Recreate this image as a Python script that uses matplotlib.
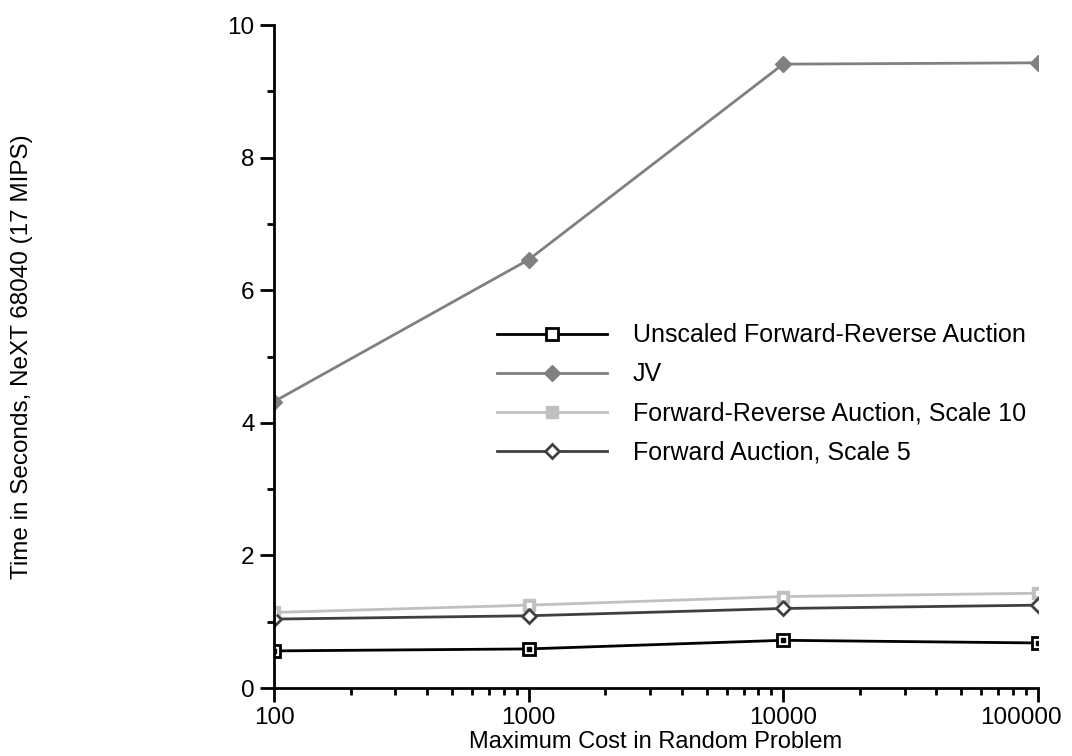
import matplotlib
matplotlib.use("Agg")
import matplotlib.pyplot as plt
from matplotlib.ticker import LogLocator, MultipleLocator, FixedLocator
from matplotlib.transforms import ScaledTranslation

plt.rcParams["font.family"] = ["Liberation Sans", "DejaVu Sans"]

max_cost = [100, 1000, 10000, 100000]
cost_labels = ["100", "1000", "10000", "100000"]

unscaled_fr = [0.56, 0.59, 0.72, 0.68]
jv = [4.32, 6.46, 9.41, 9.43]
fr_scale10 = [1.14, 1.25, 1.38, 1.43]
fwd_scale5 = [1.04, 1.09, 1.20, 1.25]


def main():
    fig = plt.figure(figsize=(10.72, 7.56), dpi=100)
    ax = fig.add_axes([0.2556, 0.0899, 0.7124, 0.877])

    ax.plot(max_cost, unscaled_fr, color="black", lw=2, marker="s", ms=8.5,
            mfc="white", mec="black", mew=2,
            label="Unscaled Forward-Reverse Auction")
    ax.plot(max_cost, jv, color="#808080", lw=2, marker="D", ms=8.5,
            mfc="#808080", mec="#808080", label="JV")
    ax.plot(max_cost, fr_scale10, color="#c0c0c0", lw=2, marker="s", ms=8.5,
            mfc="#c0c0c0", mec="#c0c0c0",
            label="Forward-Reverse Auction, Scale 10")
    ax.plot(max_cost, fwd_scale5, color="#404040", lw=2, marker="D", ms=7.5,
            mfc="white", mec="#404040", mew=2,
            label="Forward Auction, Scale 5")
    # small dot in the middle of the square markers
    ax.plot(max_cost, unscaled_fr, ls="none", marker="s", ms=2.5, color="black")
    ax.plot(max_cost, fr_scale10, ls="none", marker="s", ms=2.5, color="white")

    ax.set_xscale("log")
    ax.set_xlim(100, 100000)
    ax.set_ylim(0, 10)
    ax.xaxis.set_major_locator(FixedLocator(max_cost))
    ax.set_xticklabels(cost_labels)
    ax.xaxis.set_minor_locator(LogLocator(base=10, subs=range(2, 10)))
    ax.xaxis.set_minor_formatter(plt.NullFormatter())
    ax.yaxis.set_major_locator(MultipleLocator(2))
    ax.yaxis.set_minor_locator(MultipleLocator(1))

    for s in ["top", "right"]:
        ax.spines[s].set_visible(False)
    for s in ["left", "bottom"]:
        ax.spines[s].set_linewidth(2)
    ax.tick_params(which="major", direction="out", length=10, width=2,
                   labelsize=17.5, pad=4)
    ax.tick_params(which="minor", direction="out", length=5, width=2)

    # last x label is pulled left so it fits in the figure
    last = ax.get_xticklabels()[-1]
    last.set_transform(last.get_transform()
                       + ScaledTranslation(-0.17, 0, fig.dpi_scale_trans))

    ax.set_xlabel("Maximum Cost in Random Problem", fontsize=17, labelpad=1)
    ax.set_ylabel("Time in Seconds, NeXT 68040 (17 MIPS)", fontsize=17.5)
    ax.yaxis.set_label_coords(-0.315, 0.5)

    ax.legend(loc="upper left", bbox_to_anchor=(0.262, 0.584), frameon=False,
              fontsize=18, handlelength=4.4, numpoints=1, labelspacing=0.6,
              handletextpad=1.05)

    fig.savefig("out.png", dpi=100)


if __name__ == "__main__":
    main()
